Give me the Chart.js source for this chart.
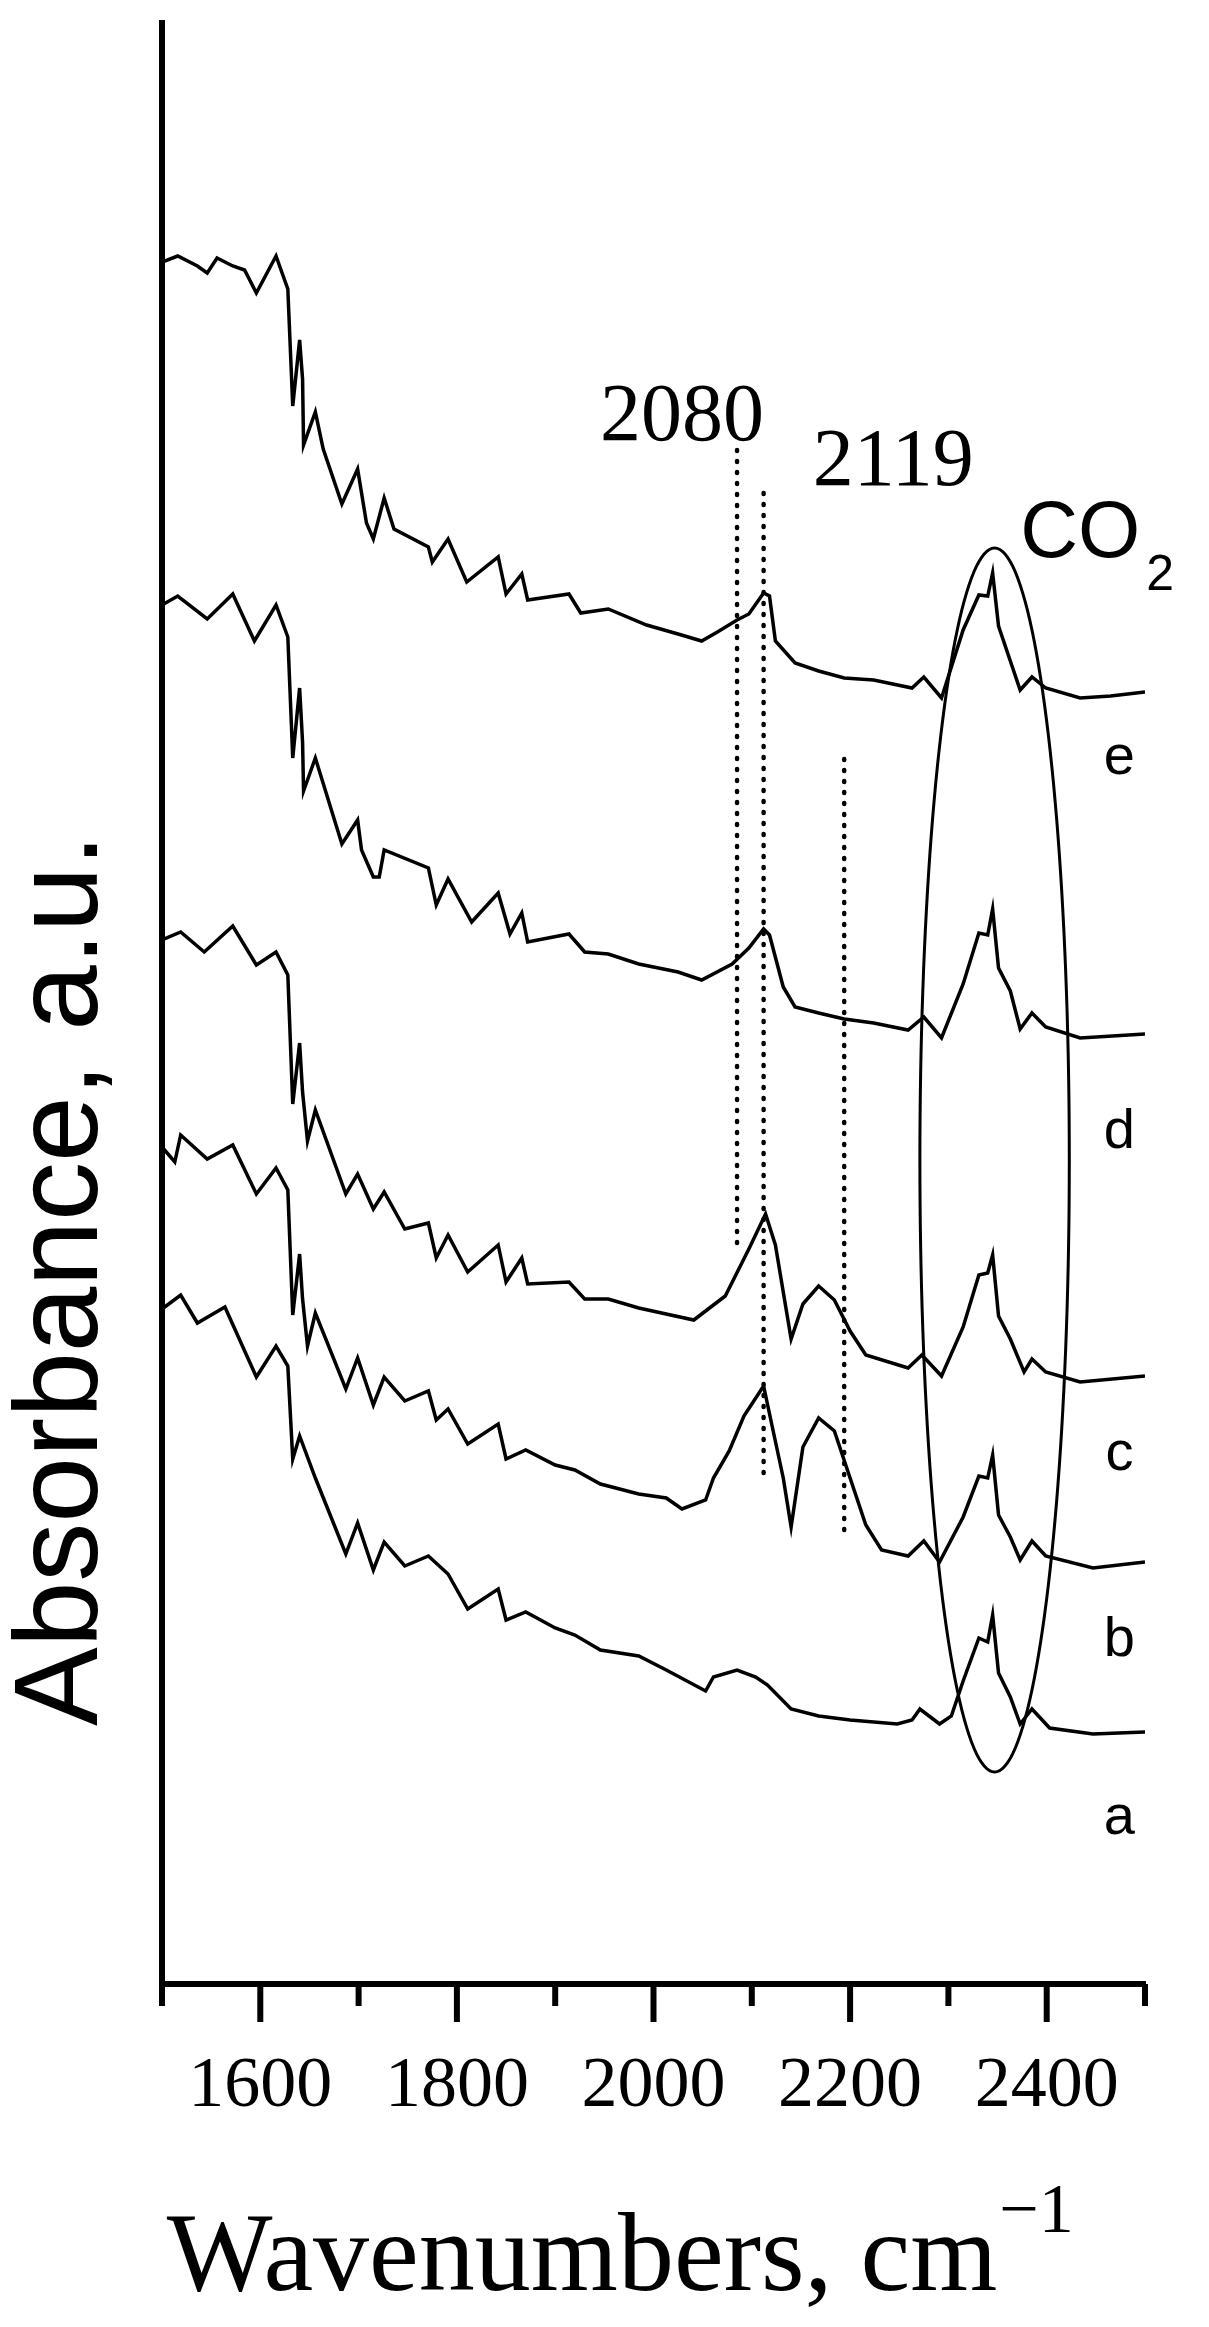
<!DOCTYPE html>
<html>
<head>
<meta charset="utf-8">
<script src="https://cdn.jsdelivr.net/npm/chart.js@4/dist/chart.umd.min.js"></script>
<style>
  html, body { margin: 0; padding: 0; background: #fff; }
  #wrap { width: 1209px; height: 2327px; position: relative; }
</style>
</head>
<body>
<div id="wrap"><canvas id="myChart"></canvas></div>
<script>
// wavenumbers (cm-1) and read heights for each spectrum; the hidden y axis runs downward
const eWn = [1500,1516,1536,1546,1556,1572,1584,1596,1616,1628,1633,1640,1643,1644,1656,1664,1683,1699,1708,1715,1726,1736,1771,1775,1791,1810,1842,1850,1866,1872,1914,1926,1954,1993,2025,2049,2065,2085,2097,2112,2118,2124,2144,2168,2194,2224,2263,2275,2293,2315,2331,2340,2345,2351,2363,2373,2385,2399,2434,2465,2500];
const eAbs = [262,256,266,273,258,266,270,293,256,289,406,340,379,445,412,449,504,469,523,539,498,529,547,562,539,582,557,594,574,600,594,613,609,625,634,641,632,620,614,593,596,641,663,671,678,680,688,677,698,630,595,596,573,626,661,690,677,688,698,696,692];

const dWn = [1500,1516,1546,1572,1594,1616,1628,1633,1640,1643,1644,1656,1683,1699,1703,1715,1721,1726,1771,1779,1791,1815,1842,1854,1866,1872,1914,1930,1954,1985,2025,2049,2080,2097,2112,2118,2132,2144,2168,2194,2224,2259,2275,2293,2315,2331,2340,2345,2351,2363,2373,2385,2399,2434,2500];
const dAbs = [605,596,619,594,641,605,637,758,688,742,791,758,844,820,850,877,877,850,868,905,879,922,893,934,913,942,934,952,954,964,972,980,964,948,929,935,987,1007,1013,1019,1023,1030,1017,1038,984,933,935,909,968,991,1029,1013,1027,1038,1034];

const cWn = [1500,1519,1543,1572,1596,1616,1628,1633,1640,1643,1648,1656,1687,1699,1715,1726,1747,1771,1779,1791,1811,1842,1850,1866,1872,1914,1930,1954,1985,2041,2073,2097,2114,2124,2140,2152,2168,2184,2200,2216,2259,2273,2293,2315,2331,2340,2345,2351,2363,2377,2385,2399,2434,2500];
const cAbs = [940,932,952,926,965,952,975,1104,1043,1092,1141,1110,1194,1174,1209,1192,1229,1223,1258,1235,1272,1245,1282,1258,1284,1282,1299,1299,1308,1320,1296,1249,1214,1245,1339,1304,1286,1300,1331,1355,1368,1355,1376,1327,1275,1273,1255,1316,1339,1372,1359,1372,1382,1376];

const bWn = [1500,1513,1519,1546,1572,1596,1616,1628,1633,1640,1643,1648,1656,1687,1699,1715,1726,1747,1771,1779,1791,1811,1842,1850,1870,1900,1920,1946,1985,2013,2029,2053,2061,2077,2092,2112,2120,2132,2140,2152,2168,2184,2200,2216,2232,2259,2275,2291,2315,2331,2340,2345,2351,2363,2373,2385,2399,2447,2500];
const bAbs = [1147,1162,1135,1159,1145,1194,1168,1190,1315,1254,1299,1346,1313,1389,1358,1405,1377,1401,1391,1420,1409,1444,1424,1459,1450,1465,1470,1484,1494,1498,1509,1500,1478,1451,1416,1386,1423,1478,1527,1447,1418,1431,1478,1525,1550,1556,1541,1562,1517,1476,1478,1455,1515,1537,1560,1541,1556,1568,1562];

const aWn = [1500,1519,1536,1564,1596,1616,1628,1633,1640,1656,1687,1699,1715,1726,1747,1771,1791,1811,1842,1850,1870,1900,1920,1946,1985,2013,2053,2061,2085,2104,2116,2140,2168,2200,2248,2263,2271,2291,2303,2315,2331,2340,2345,2351,2363,2373,2385,2403,2447,2500];
const aAbs = [1309,1295,1323,1307,1377,1346,1366,1459,1436,1478,1554,1523,1570,1542,1566,1556,1574,1609,1589,1620,1612,1628,1635,1650,1656,1670,1691,1677,1670,1677,1685,1709,1716,1720,1724,1720,1709,1724,1716,1681,1638,1642,1615,1673,1697,1724,1709,1728,1734,1732];

const spectra = [
  { name: 'e', wn: eWn, abs: eAbs, labelAt: 774 },
  { name: 'd', wn: dWn, abs: dAbs, labelAt: 1148 },
  { name: 'c', wn: cWn, abs: cAbs, labelAt: 1470 },
  { name: 'b', wn: bWn, abs: bAbs, labelAt: 1656 },
  { name: 'a', wn: aWn, abs: aAbs, labelAt: 1834 }
];

// dotted marker lines: position and vertical extent
const markWn = [2085, 2112, 2194];
const markTop = [450, 493, 759];
const markBottom = [1249, 1482, 1533];

// CO2 ellipse
const co2Center = [2347, 1160];
const co2Radius = [76, 612];

const xTicks = [1600, 1800, 2000, 2200, 2400];

const datasets = spectra.map(s => ({
  label: s.name,
  data: s.wn.map((w, i) => ({ x: w, y: s.abs[i] })),
  borderColor: '#000',
  borderWidth: 3.5,
  pointRadius: 0,
  tension: 0
}));

markWn.forEach((w, i) => {
  datasets.push({
    label: 'mark' + i,
    data: [{ x: w, y: markTop[i] }, { x: w, y: markBottom[i] }],
    borderColor: '#000',
    borderWidth: 4.5,
    borderDash: [1, 10],
    borderCapStyle: 'round',
    pointRadius: 0
  });
});

const ellipse = [];
for (let k = 0; k <= 90; k++) {
  const t = k / 90 * 2 * Math.PI;
  ellipse.push({ x: co2Center[0] + co2Radius[0] * Math.cos(t), y: co2Center[1] + co2Radius[1] * Math.sin(t) });
}
datasets.push({ label: 'CO2', data: ellipse, borderColor: '#000', borderWidth: 3, pointRadius: 0, tension: 0.4 });

const decor = {
  id: 'decor',
  afterDraw(chart) {
    const c = chart.ctx;
    const x = chart.scales.x, y = chart.scales.y;
    c.save();
    c.fillStyle = '#000';
    c.strokeStyle = '#000';

    // ticks below the axis
    c.lineWidth = 6;
    for (let w = 1500; w <= 2500; w += 100) {
      const px = x.getPixelForValue(w);
      const len = (w % 200 === 0) ? 38 : 22;
      c.beginPath();
      c.moveTo(px, chart.chartArea.bottom);
      c.lineTo(px, chart.chartArea.bottom + len);
      c.stroke();
    }

    // peak labels
    c.textAlign = 'center';
    c.textBaseline = 'alphabetic';
    c.font = '82px "Liberation Serif", serif';
    c.fillText('2080', x.getPixelForValue(2029), y.getPixelForValue(440));
    c.fillText('2119', x.getPixelForValue(2244), y.getPixelForValue(485));

    c.textAlign = 'left';
    c.font = '80px "Liberation Sans", Arial, sans-serif';
    const coX = x.getPixelForValue(2373);
    c.fillText('CO', coX, y.getPixelForValue(557));
    const coW = c.measureText('CO').width;
    c.font = '50px "Liberation Sans", Arial, sans-serif';
    c.fillText('2', coX + coW + 6, y.getPixelForValue(590));

    // curve letters
    c.textAlign = 'center';
    c.font = '56px "Liberation Sans", Arial, sans-serif';
    spectra.forEach(s => c.fillText(s.name, x.getPixelForValue(2474), y.getPixelForValue(s.labelAt)));

    // axis titles
    c.textAlign = 'center';
    c.font = '112px "Liberation Serif", serif';
    c.fillText('Wavenumbers, cm', 582, 2290);
    const tw = c.measureText('Wavenumbers, cm').width;
    c.textAlign = 'left';
    c.font = '70px "Liberation Serif", serif';
    c.fillText('\u22121', 582 + tw / 2 + 2, 2232);

    c.translate(64, 1280);
    c.rotate(-Math.PI / 2);
    c.textAlign = 'center';
    c.textBaseline = 'middle';
    c.font = '118px "Liberation Sans", Arial, sans-serif';
    c.fillText('Absorbance, a.u.', 0, 0);
    c.restore();
  }
};

const ctx = document.getElementById('myChart');
new Chart(ctx, {
  type: 'line',
  data: { datasets: datasets },
  options: {
    responsive: true,
    maintainAspectRatio: false,
    animation: false,
    layout: { padding: { left: 162, right: 64, top: 23, bottom: 0 } },
    plugins: { legend: { display: false }, tooltip: { enabled: false } },
    scales: {
      x: {
        type: 'linear',
        min: 1500,
        max: 2500,
        afterBuildTicks: s => { s.ticks = xTicks.map(v => ({ value: v })); },
        afterFit: s => { s.height = 343; },
        grid: { display: false },
        border: { display: true, color: '#000', width: 6 },
        ticks: {
          color: '#000',
          padding: 52,
          callback: v => String(v),
          font: { family: '"Liberation Serif", serif', size: 72 }
        }
      },
      y: {
        type: 'linear',
        reverse: true,
        min: 23,
        max: 1984,
        afterFit: s => { s.width = 0; },
        grid: { display: false },
        border: { display: true, color: '#000', width: 6 },
        ticks: { display: false }
      }
    }
  },
  plugins: [decor]
});
</script>
</body>
</html>
